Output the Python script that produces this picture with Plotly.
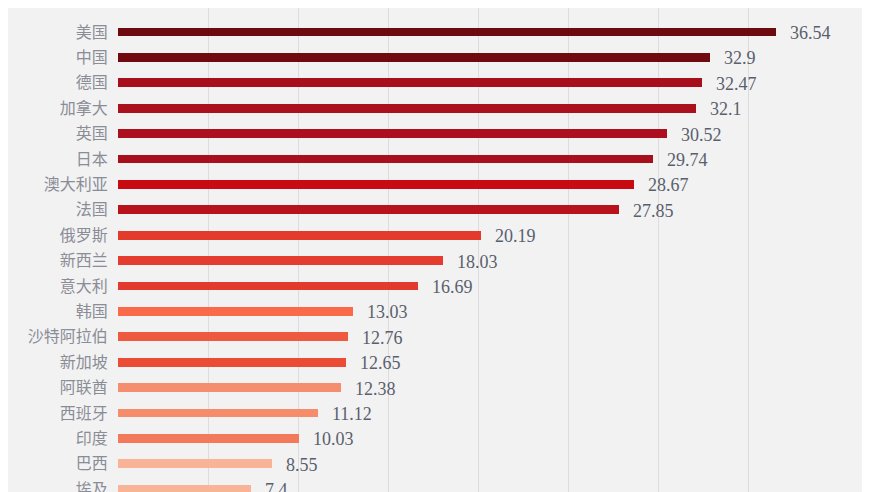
import plotly.graph_objects as go

countries = ["美国", "中国", "德国", "加拿大", "英国", "日本", "澳大利亚", "法国", "俄罗斯",
             "新西兰", "意大利", "韩国", "沙特阿拉伯", "新加坡", "阿联酋", "西班牙", "印度", "巴西", "埃及"]
values = [36.54, 32.9, 32.47, 32.1, 30.52, 29.74, 28.67, 27.85, 20.19,
          18.03, 16.69, 13.03, 12.76, 12.65, 12.38, 11.12, 10.03, 8.55, 7.4]
bar_colors = ["#6c0a10", "#700a10", "#a80f1c", "#aa101d", "#ac101e", "#a80f1c", "#c80a12", "#b8121c", "#e43a2c",
              "#e43c2e", "#e23a2c", "#f86a4a", "#ee5a40", "#ea4c36", "#f58e6e", "#f58c6a", "#f27a5a", "#f9b498", "#f9b498"]

fig = go.Figure()
fig.add_trace(go.Bar(
    x=values, y=countries, orientation="h",
    marker=dict(color=bar_colors, line=dict(width=0)),
    width=0.34, hoverinfo="x+y",
))

for c, v in zip(countries, values):
    fig.add_annotation(x=v, y=c, text=f"{v:g}", showarrow=False, xanchor="left", xshift=12, yshift=-1,
                       font=dict(family="Liberation Serif, Times New Roman, serif", size=18, color="#5a5f6c"))

fig.update_layout(
    width=870, height=492,
    margin=dict(l=110, r=40, t=0, b=0, autoexpand=False),
    paper_bgcolor="#f2f2f3", plot_bgcolor="#f2f2f3",
    showlegend=False, bargap=0,
    xaxis=dict(range=[0, 40], dtick=5, showgrid=True, gridcolor="#dcdcdf", gridwidth=1, automargin=False,
               showticklabels=False, zeroline=False, showline=False, fixedrange=True),
    yaxis=dict(type="category", range=[18.425, -0.945], showgrid=False, zeroline=False, showline=False,
               automargin=False, ticks="outside", ticklen=6, tickcolor="rgba(0,0,0,0)",
               tickfont=dict(family="Noto Sans CJK SC, sans-serif", size=16, color="#8a8d96")),
)

fig.write_html("out.html")
